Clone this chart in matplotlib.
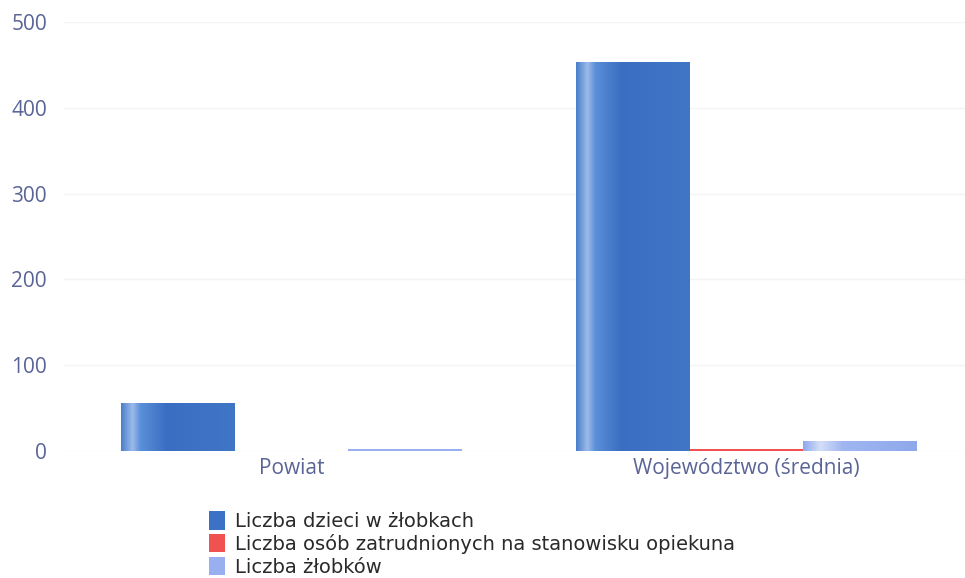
import numpy as np
import matplotlib
matplotlib.use("Agg")
import matplotlib.pyplot as plt
from matplotlib.colors import LinearSegmentedColormap

# Data
groups = ["Powiat", "Województwo (średnia)"]
series_names = [
    "Liczba dzieci w żłobkach",
    "Liczba osób zatrudnionych na stanowisku opiekuna",
    "Liczba żłobków",
]
dzieci = [56, 453]
opiekunowie = [0, 2]
zlobki = [2, 12]
yticks = [0, 100, 200, 300, 400, 500]

# Horizontal gradients imitating the shaded bars
cmaps = [
    LinearSegmentedColormap.from_list(
        "blue",
        [(0, "#4a7fcc"), (0.10, "#9dbbea"), (0.17, "#5a8fd8"),
         (0.4, "#3a6ec2"), (1, "#4076c6")],
    ),
    LinearSegmentedColormap.from_list(
        "red", [(0, "#f05a5a"), (1, "#f04848")]
    ),
    LinearSegmentedColormap.from_list(
        "light", [(0, "#8ea8ee"), (0.15, "#d4def8"), (0.35, "#9fb6f0"),
                  (1, "#8ea8ec")],
    ),
]
solid = ["#3b72c6", "#f05252", "#98b0f0"]

fig = plt.figure(figsize=(9.65, 5.78), dpi=100)
ax = fig.add_axes([0.066, 0.22, 0.934, 0.742])

x = np.arange(len(groups))
width = 0.25
grad = np.linspace(0, 1, 256).reshape(1, -1)

for i, (vals, name) in enumerate(zip([dzieci, opiekunowie, zlobki], series_names)):
    pos = x + (i - 1) * width
    bars = ax.bar(pos, vals, width, color=solid[i], label=name, linewidth=0)
    for b in bars:
        h = b.get_height()
        if h < 4:
            # very small bars stay flat
            continue
        x0 = b.get_x()
        im = ax.imshow(grad, extent=[x0, x0 + b.get_width(), 0, h],
                       aspect="auto", cmap=cmaps[i], zorder=3)
        im.set_clip_path(b)

ax.set_xlim(-0.5, 1.48)
ax.set_ylim(0, 500)
ax.set_yticks(yticks)
ax.set_xticks(x)
ax.set_xticklabels(groups)

tick_color = "#5a6496"
ax.tick_params(axis="both", length=0, labelsize=15, colors=tick_color)
ax.tick_params(axis="x", pad=5)
ax.tick_params(axis="y", pad=12)
for lbl in ax.get_xticklabels() + ax.get_yticklabels():
    lbl.set_fontfamily("Open Sans")

ax.grid(axis="y", color="#f4f4f6", linewidth=1)
ax.set_axisbelow(True)
for s in ax.spines.values():
    s.set_visible(False)

fig.legend(
    loc="upper left",
    bbox_to_anchor=(0.207, 0.133),
    frameon=False,
    fontsize=14,
    handlelength=0.8,
    handleheight=1.1,
    handletextpad=0.5,
    labelspacing=0.15,
    borderpad=0,
    labelcolor="#2a2a2a",
)

fig.savefig("out.png", dpi=100)
